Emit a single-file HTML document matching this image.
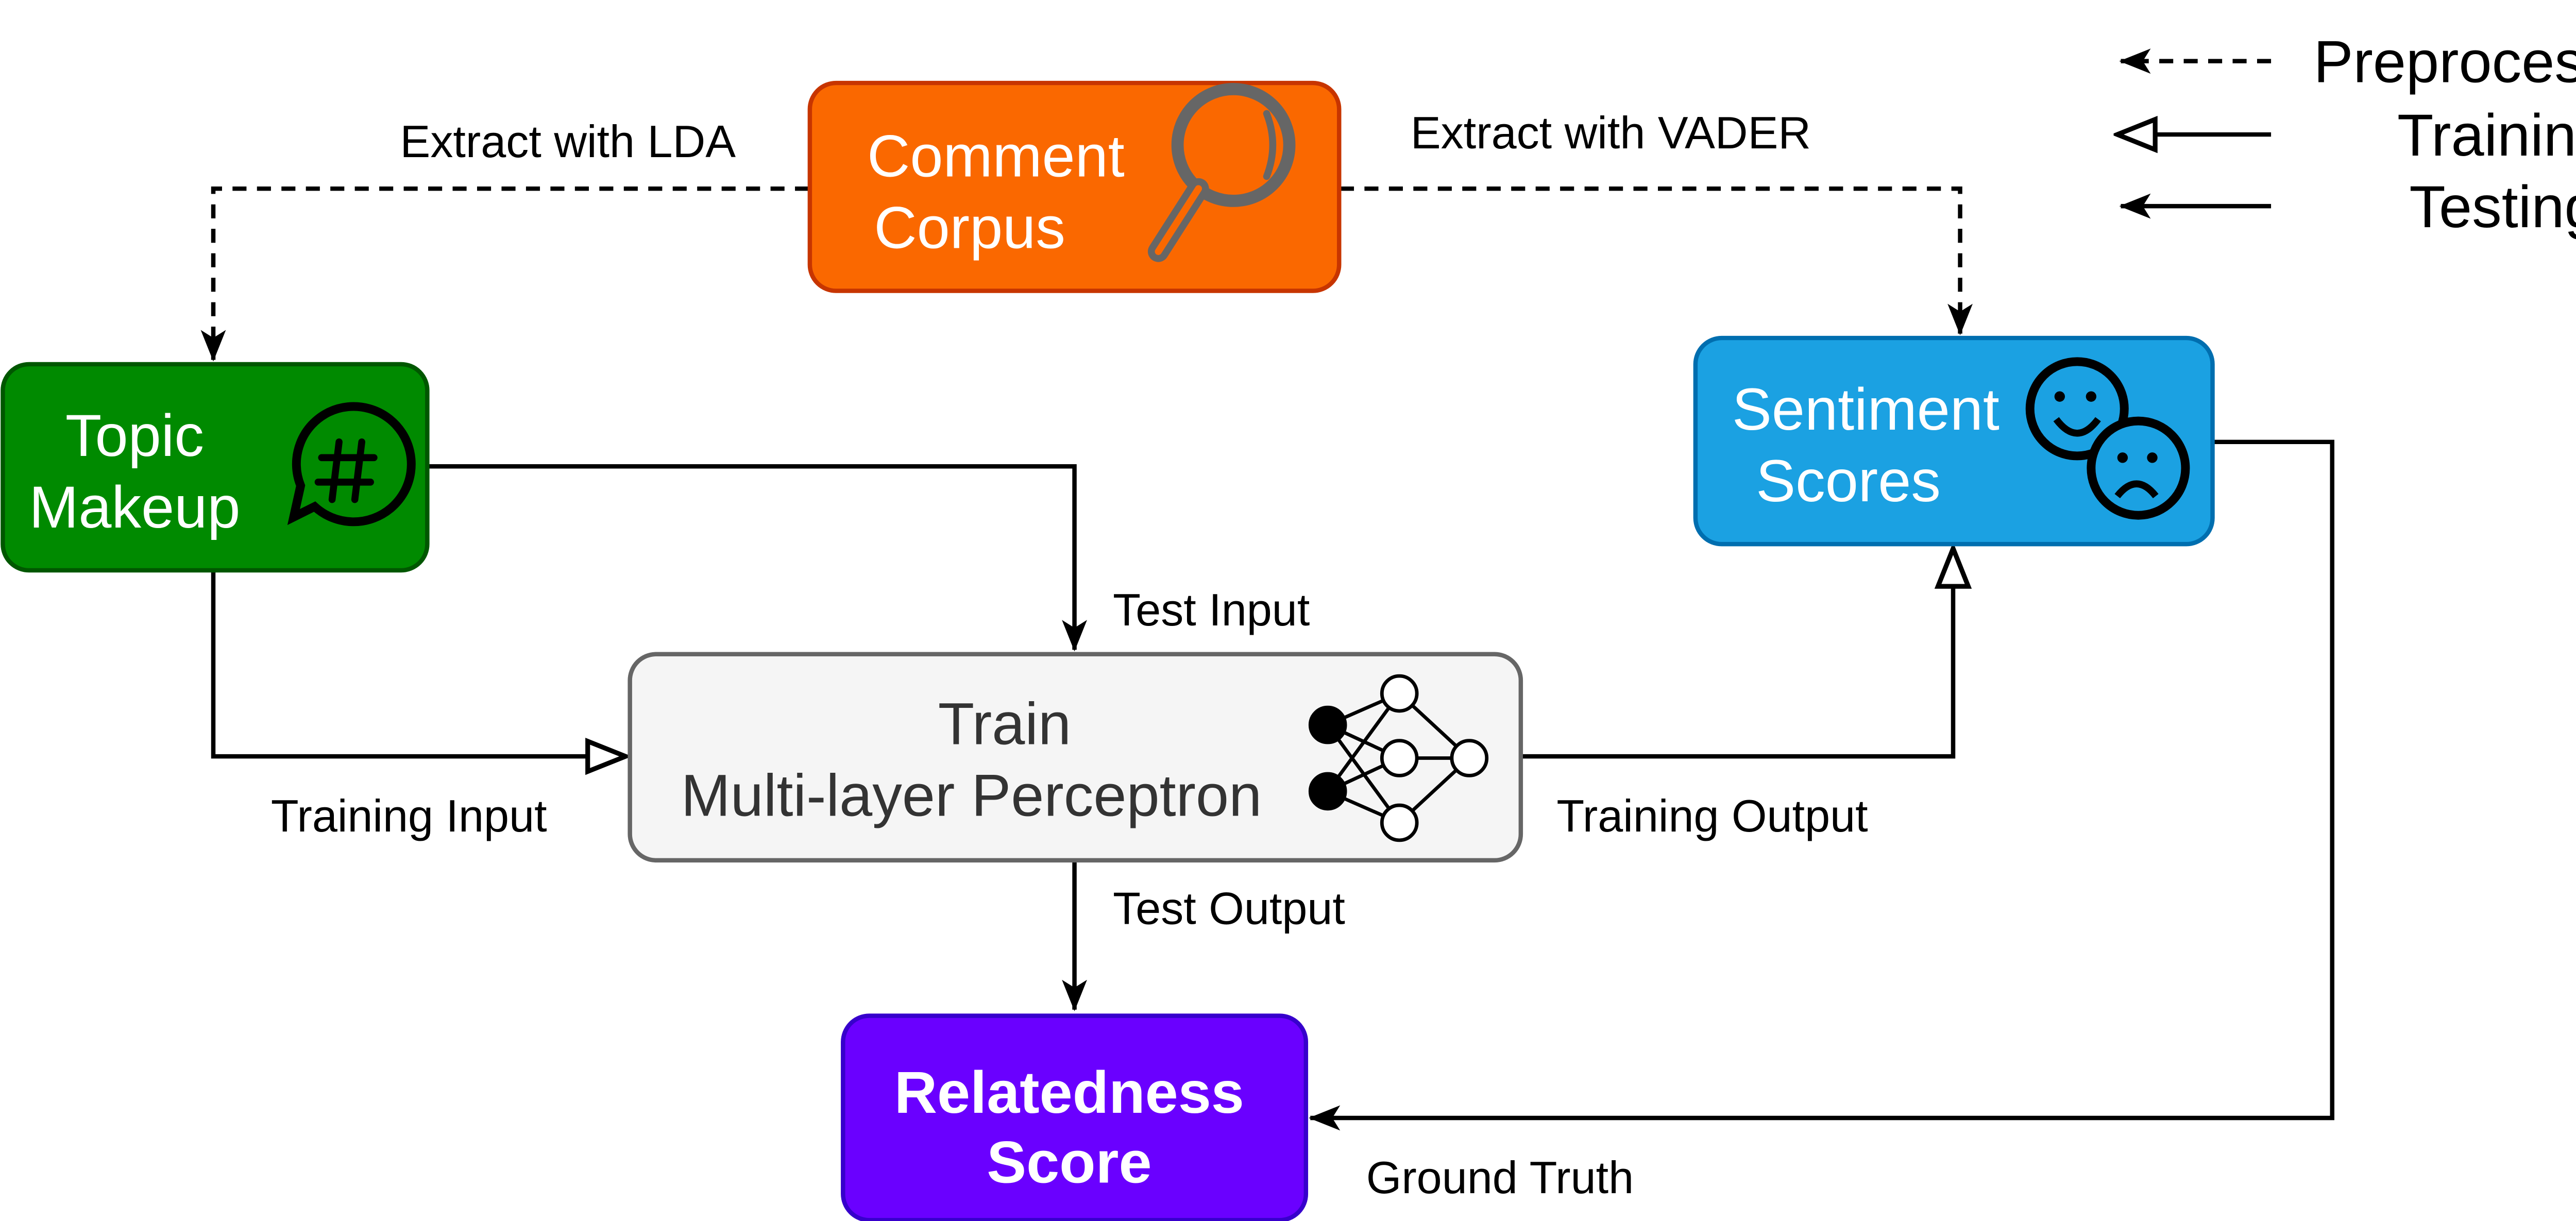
<!DOCTYPE html>
<html><head><style>html,body{margin:0;padding:0;background:#fff}svg{display:block}</style></head><body>
<svg width="5290" height="2370" viewBox="0 0 1560 699" xmlns="http://www.w3.org/2000/svg" font-family="Liberation Sans, sans-serif">
<defs>
<marker id="f" viewBox="0 0 20 20" refX="19" refY="10" markerWidth="18" markerHeight="18" markerUnits="userSpaceOnUse" orient="auto"><path d="M0,2 L20,10 L0,18 L5,10 Z" fill="#000"/></marker>
<marker id="h" viewBox="0 0 24 20" refX="22" refY="10" markerWidth="26" markerHeight="22" markerUnits="userSpaceOnUse" orient="auto"><path d="M2,2 L22,10 L2,18 Z" fill="#fff" stroke="#000" stroke-width="2.5"/></marker>
</defs>
<g fill="none" stroke="#000" stroke-width="2.5">
<path d="M463,108 H122 V206" stroke-dasharray="8,6" marker-end="url(#f)"/>
<path d="M767,108 H1122 V191" stroke-dasharray="8,6" marker-end="url(#f)"/>
<path d="M245,267 H615 V372" marker-end="url(#f)"/>
<path d="M122,327 V433 H358" marker-end="url(#h)"/>
<path d="M871,433 H1118 V314" marker-end="url(#h)"/>
<path d="M615,493 V578" marker-end="url(#f)"/>
<path d="M1267,253 H1335 V640 H750" marker-end="url(#f)"/>
<path d="M1300,35 H1214" stroke-dasharray="8,6" marker-end="url(#f)"/>
<path d="M1300,77 H1212" marker-end="url(#h)"/>
<path d="M1300,118 H1214" marker-end="url(#f)"/>
</g>
<rect x="463.5" y="47.5" width="303" height="119" rx="15" fill="#FA6800" stroke="#C73500" stroke-width="2.5"/>
<rect x="1.5" y="208.5" width="243" height="118" rx="15" fill="#008A00" stroke="#005700" stroke-width="2.5"/>
<rect x="970.5" y="193.5" width="296" height="118" rx="15" fill="#1BA1E2" stroke="#006EAF" stroke-width="2.5"/>
<rect x="360.5" y="374.5" width="510" height="118" rx="15" fill="#F5F5F5" stroke="#666" stroke-width="2.5"/>
<rect x="482.5" y="581.5" width="265" height="117" rx="15" fill="#6A00FF" stroke="#3700CC" stroke-width="2.5"/>
<g fill="#fff" font-size="34" text-anchor="middle">
<text x="570" y="101">Comment</text><text x="555" y="142">Corpus</text>
<text x="77" y="261">Topic</text><text x="77" y="302">Makeup</text>
<text x="1068" y="246">Sentiment</text><text x="1058" y="287">Scores</text>
<text x="612" y="637" font-weight="bold">Relatedness</text><text x="612" y="677" font-weight="bold">Score</text>
</g>
<g fill="#333" font-size="34" text-anchor="middle"><text x="575" y="426">Train</text><text x="556" y="467">Multi-layer Perceptron</text></g>
<g font-size="26" fill="#000">
<text x="325" y="90" text-anchor="middle">Extract with LDA</text>
<text x="922" y="85" text-anchor="middle">Extract with VADER</text>
<text x="637" y="358">Test Input</text>
<text x="155" y="476">Training Input</text>
<text x="891" y="476">Training Output</text>
<text x="637" y="529">Test Output</text>
<text x="782" y="683">Ground Truth</text>
</g>
<g font-size="34" fill="#000" text-anchor="middle">
<text x="1433" y="47">Preprocessing</text><text x="1433" y="89">Training</text><text x="1433" y="130">Testing</text>
</g>
<!-- magnifier -->
<g stroke="#666" fill="none" stroke-width="7" stroke-linecap="round">
<circle cx="706" cy="83" r="32"/><path d="M686,108 L663,144" stroke-width="12"/><path d="M686,108 L663,144" stroke="#FA6800" stroke-width="4"/>
<path d="M725,65 Q732,83 725,101" stroke-width="4"/>
</g>
<!-- hashtag bubble -->
<g stroke="#000" fill="none" stroke-width="5" stroke-linecap="round">
<path d="M188,236 A33,33 0 1 1 180,290 L168,296 L172,278 A33,33 0 0 1 188,236"/>
<path d="M194,253 L190,286 M207,253 L203,286 M184,262 H214 M182,276 H212" stroke-width="4"/>
</g>
<!-- faces -->
<g stroke="#000" stroke-width="5" fill="#1BA1E2">
<circle cx="1189" cy="234" r="27"/>
<circle cx="1224" cy="268" r="27"/>
</g>
<g fill="#000"><circle cx="1179" cy="227" r="3"/><circle cx="1197" cy="227" r="3"/><circle cx="1215" cy="262" r="3"/><circle cx="1232" cy="262" r="3"/></g>
<g stroke="#000" stroke-width="4" fill="none"><path d="M1177,240 Q1189,256 1201,240"/><path d="M1212,284 Q1223,270 1234,284"/></g>
<!-- NN -->
<g stroke="#000" stroke-width="2">
<path d="M760,415 L801,397 M760,415 L801,434 M760,415 L801,471 M760,453 L801,397 M760,453 L801,434 M760,453 L801,471 M801,397 L841,434 M801,434 L841,434 M801,471 L841,434"/>
<circle cx="760" cy="415" r="10" fill="#000"/><circle cx="760" cy="453" r="10" fill="#000"/>
<circle cx="801" cy="397" r="10" fill="#fff"/><circle cx="801" cy="434" r="10" fill="#fff"/><circle cx="801" cy="471" r="10" fill="#fff"/>
<circle cx="841" cy="434" r="10" fill="#fff"/>
</g>
</svg>
</body></html>
